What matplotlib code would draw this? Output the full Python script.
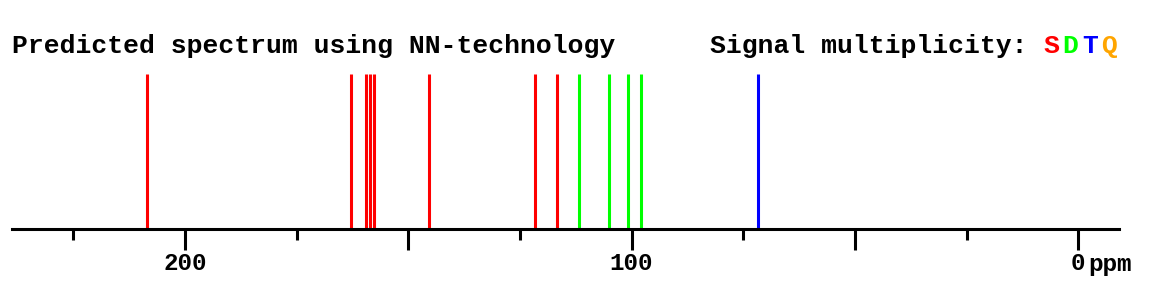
import matplotlib.pyplot as plt
from matplotlib.ticker import MultipleLocator

# predicted 13C shifts (ppm) and multiplicity of each signal
shifts = [208.5, 162.8, 159.5, 158.5, 157.6, 145.4, 121.6, 116.6,
          111.8, 105.0, 100.8, 97.9, 71.8]
mult = ['S', 'S', 'S', 'S', 'S', 'S', 'S', 'S', 'D', 'D', 'D', 'D', 'T']
major_ticks = [200, 150, 100, 50, 0]
tick_labels = ['200', '', '100', '', '0']
mult_colors = {'S': '#ff0000', 'D': '#00ff00', 'T': '#0000ff', 'Q': '#ffa500'}

font = 'Liberation Mono'
W, H = 1173, 290

fig = plt.figure(figsize=(W / 100, H / 100), dpi=100)
# axes: bottom spine is the ppm axis line
ax = fig.add_axes([12 / W, 1 - 229 / H, (1119 - 12) / W, (229 - 74) / H])
ax.set_xlim(238.7, -9.1)
ax.set_ylim(0, 1)

ax.vlines(shifts, 0, 1, colors=[mult_colors[m] for m in mult], linewidth=2.2)

for s in ['top', 'left', 'right']:
    ax.spines[s].set_visible(False)
ax.spines['bottom'].set_linewidth(2.2)
ax.set_yticks([])

ax.set_xticks(major_ticks)
ax.set_xticklabels(tick_labels, fontfamily=font, fontweight='bold', fontsize=17.5)
ax.xaxis.set_minor_locator(MultipleLocator(25))
ax.tick_params(axis='x', which='major', length=15, width=2.2, pad=1.5)
ax.tick_params(axis='x', which='minor', length=8, width=2.2)
ax.text(-2.15, -0.272, 'ppm', transform=ax.get_xaxis_transform(),
        fontfamily=font, fontweight='bold', fontsize=17.5, ha='left', va='baseline')

title_fs = 19
base_y = 1 - 53 / H
fig.text(12 / W, base_y, 'Predicted spectrum using NN-technology',
         fontfamily=font, fontweight='bold', fontsize=title_fs, va='baseline')

# legend line, one colored letter per multiplicity
fig.text(710 / W, base_y, 'Signal multiplicity:', fontfamily=font,
         fontweight='bold', fontsize=title_fs, va='baseline')
for i, key in enumerate(['S', 'D', 'T', 'Q']):
    fig.text((1043 + i * 19.5) / W, base_y, key, color=mult_colors[key],
             fontfamily=font, fontweight='bold', fontsize=title_fs,
             va='baseline', ha='left')

fig.savefig('out.png', dpi=100)
